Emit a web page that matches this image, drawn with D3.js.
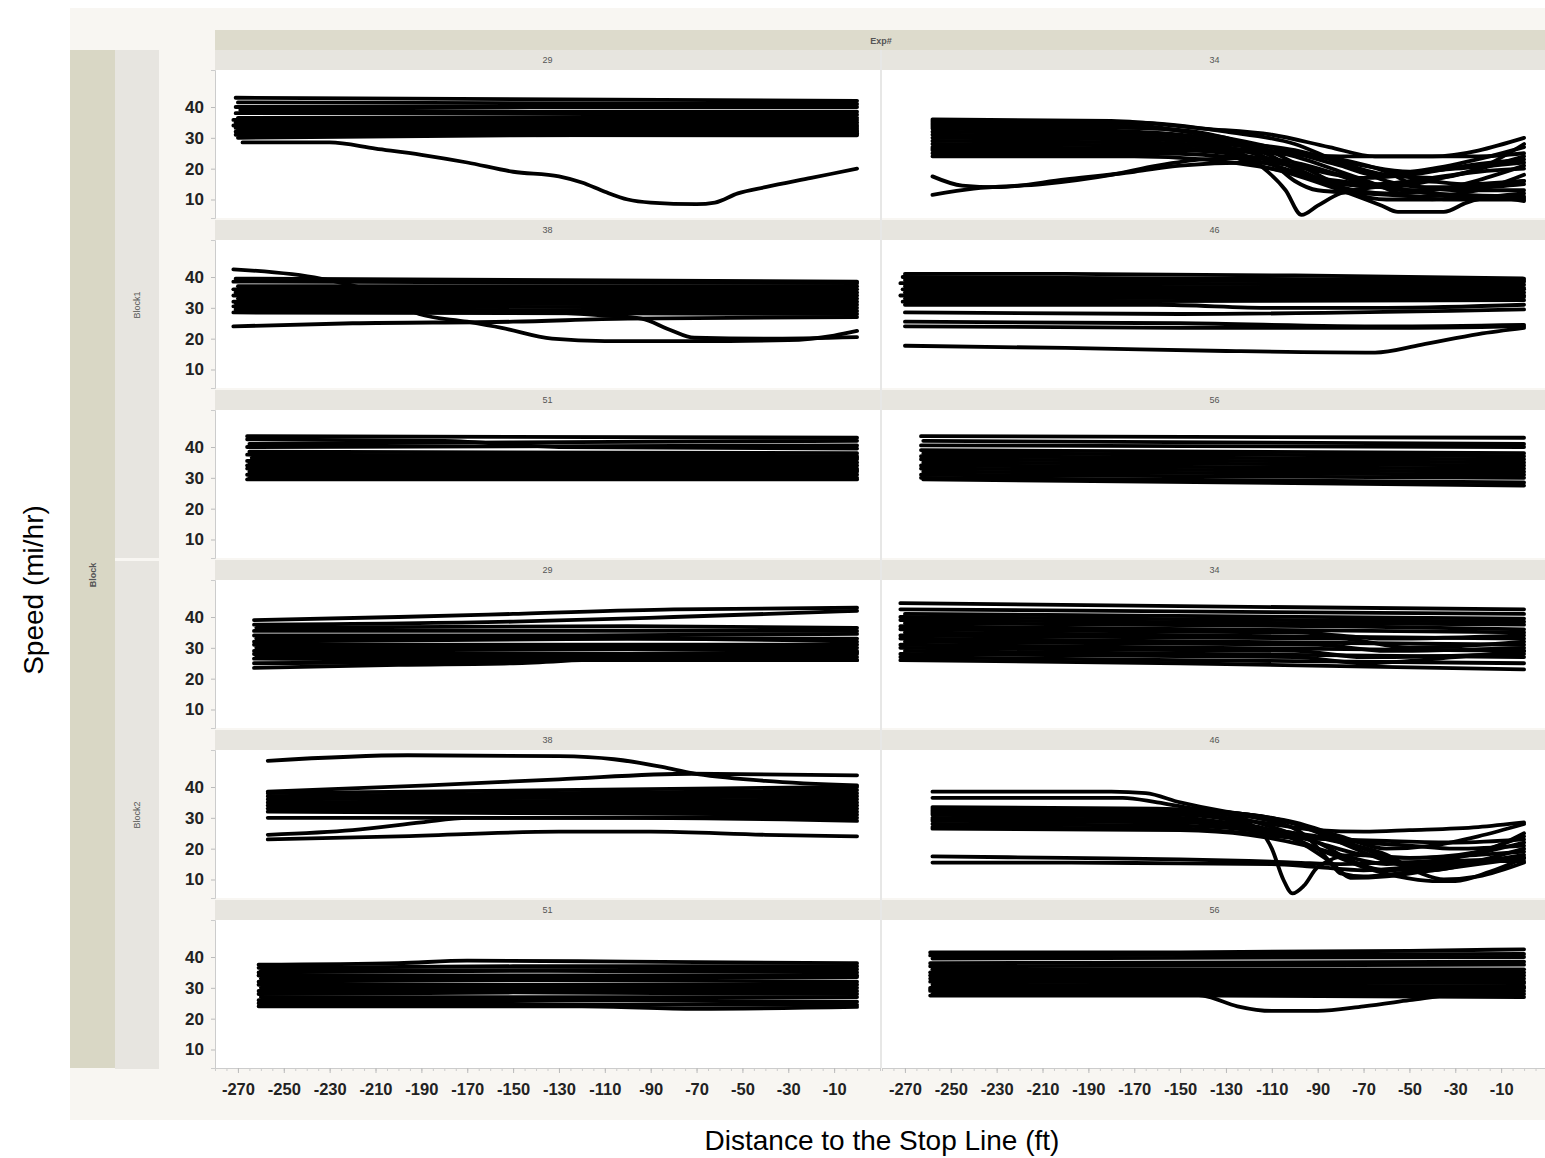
<!DOCTYPE html>
<html>
<meta charset="utf-8" />
<style>
  body { margin: 0; background: #fff; }
  .strip-label { font-family: "Liberation Sans", Arial, sans-serif; font-size: 9px; fill: #555; }
  .tick text { font-family: "Liberation Sans", Arial, sans-serif; font-weight: bold; fill: #222; }
  .title { font-family: "Liberation Sans", Arial, sans-serif; font-size: 28px; fill: #000; }
  .traj { fill: none; stroke: #000; stroke-width: 3.8; stroke-linejoin: round; stroke-linecap: round; }
</style>
<body>
<script src="https://d3js.org/d3.v7.min.js"></script>
<script>
// facets
let blocks = ["Block1", "Block2"];
let expRows = [["29", "34"], ["38", "46"], ["51", "56"]];
let xTickLabels = [-270, -250, -230, -210, -190, -170, -150, -130, -110, -90, -70, -50, -30, -10];
let yTickLabels = [10, 20, 30, 40];

// trajectories: [distance (ft), speed (mi/hr)]
let b1e29 = [
  [[-271,43],[0,42]], [[-270,41.5],[0,41]], [[-271,40],[0,40]], [[-269,39],[-130,38.5],[0,38.5]],
  [[-271,38],[0,37.5]], [[-270,36.5],[0,36.5]], [[-272,35.8],[0,35.8]], [[-271,35],[0,35]],
  [[-270,34.5],[0,34.2]], [[-272,34],[0,33.6]], [[-271,33.2],[0,33]], [[-270,32.6],[0,32.4]],
  [[-271,32],[0,32]], [[-270,31.5],[0,31.5]], [[-271,31],[0,30.8]], [[-270,30],[-150,30.8],[0,31.2]],
  [[-268,28.5],[-230,28.5],[-210,26.5],[-190,24.5],[-170,22],[-150,19],[-130,17.5],[-120,15.5],[-110,12.5],[-100,10],[-90,9],[-70,8.5],[-62,9],[-52,12],[-40,14],[-20,17],[0,20]]
];
let b1e34 = [
  [[-258,36],[-180,35.5],[-140,33],[-110,31],[-85,27],[-65,24],[-40,24],[0,30]],
  [[-258,35.5],[-170,35],[-130,32],[-100,28],[-80,22],[-60,18],[-40,17],[-20,20],[0,28]],
  [[-258,35],[-170,34],[-140,31],[-115,27],[-95,20],[-80,15],[-60,14],[-30,18],[0,24]],
  [[-258,34],[-160,33],[-130,30],[-110,24],[-95,18],[-80,14],[-60,12],[-40,13],[0,21]],
  [[-258,34.5],[-160,33],[-130,30],[-105,26],[-80,21],[-65,18],[-40,20],[-15,24],[0,27]],
  [[-258,33.5],[-170,32],[-130,29],[-110,22],[-100,16],[-90,13],[-70,12],[-45,11],[-20,13],[0,18]],
  [[-258,33],[-160,31],[-130,27],[-115,21],[-104,13],[-97,5],[-90,8],[-80,12],[-65,14],[-45,16],[-25,15],[0,16]],
  [[-258,32],[-170,31],[-140,28],[-120,22],[-100,18],[-80,13],[-62,8],[-55,6],[-35,6],[-25,9],[0,12]],
  [[-258,31],[-160,30],[-120,28],[-100,26],[-80,22],[-60,16],[-45,14],[-20,14],[0,15]],
  [[-258,30],[-170,29.5],[-130,28],[-100,24],[-80,19],[-65,15],[-50,11],[-35,10],[0,10]],
  [[-258,29],[-170,28.5],[-130,27],[-110,23],[-90,17],[-75,12],[-60,10],[-40,10],[-20,11],[0,9.5]],
  [[-258,28],[-150,27.5],[-120,26],[-90,24],[-70,21],[-50,19],[-30,20],[0,22]],
  [[-258,27],[-150,26.5],[-110,25],[-80,24],[-50,24],[-20,24],[0,25]],
  [[-258,26.5],[-150,26],[-120,24],[-95,20],[-70,17],[-50,18],[-25,21],[0,23]],
  [[-258,26],[-150,26],[-110,25.5],[-80,23],[-60,19],[-45,14],[-30,13],[0,13]],
  [[-258,25],[-160,25],[-120,23],[-100,19],[-85,16],[-65,15],[-40,17],[-20,19],[0,20]],
  [[-258,24],[-170,24],[-140,23],[-110,20],[-90,17],[-70,15],[-50,13],[-25,14],[0,16]],
  [[-258,17.5],[-245,14.5],[-230,14],[-200,16.5],[-170,19],[-150,21],[-120,22],[-100,21],[-80,18],[-60,14],[-40,12],[0,11]],
  [[-258,11.5],[-240,13.5],[-210,15],[-180,18],[-160,21],[-140,23],[-120,23.5],[-100,22],[-85,19],[-70,15],[-50,13],[-30,11],[0,10.5]]
];
let b1e38 = [
  [[-272,42.5],[-234,39.5],[-210,35],[-191,28],[-170,25.5],[-155,23.5],[-133,20],[-110,19.2],[-71,19.2],[-30,19.5],[-10,21],[0,22.5]],
  [[-270,30],[-150,29],[-110,27.5],[-94,26.5],[-82,23],[-71,20.3],[-40,20],[0,20.5]],
  [[-272,24],[-220,25],[-150,25.5],[-100,26.5],[0,27]],
  [[-271,39.5],[0,38.5]], [[-272,38.5],[0,38]], [[-270,37],[0,37]], [[-272,36],[0,36]],
  [[-271,35],[0,35]], [[-272,34],[0,34]], [[-270,33],[0,33]], [[-272,32],[0,32]],
  [[-271,31.5],[0,31]], [[-272,30.5],[0,30]], [[-271,29.5],[0,29]], [[-272,28.5],[0,28]]
];
let b1e46 = [
  [[-270,41],[-200,41],[-100,40.5],[0,39.5]], [[-271,40],[0,39]], [[-270,39],[0,38.5]],
  [[-272,38],[0,37.5]], [[-270,37],[0,36.5]], [[-271,36],[0,36]], [[-270,35],[0,35]],
  [[-272,34],[0,34]], [[-270,33],[0,33.5]], [[-271,32],[0,32.5]], [[-270,31],[-160,31],[-110,30],[-60,30],[0,31]],
  [[-270,28.5],[-150,28],[0,29.5]], [[-270,25.5],[-150,25],[-60,24],[0,24.5]],
  [[-270,24],[-150,23.5],[-60,23.5],[0,24]],
  [[-270,17.7],[-200,17],[-130,16],[-65,15.5],[-45,18],[-20,21.5],[0,23.5]]
];
let b1e51 = [
  [[-266,43.5],[0,43]], [[-266,42.5],[-180,42],[-130,40],[0,39.5]], [[-265,41],[-150,41.5],[0,42]],
  [[-266,40],[0,40.5]], [[-265,38.5],[0,38]], [[-266,37.5],[0,37]], [[-264,36.5],[0,36.5]],
  [[-266,35.5],[0,36]], [[-265,35],[0,35]], [[-266,34],[0,34]], [[-264,33.5],[0,33]],
  [[-266,33],[0,32.5]], [[-265,32],[0,32]], [[-266,31],[0,31]], [[-265,30],[0,30]], [[-266,29.5],[0,29.5]]
];
let b1e56 = [
  [[-263,43.5],[0,43]], [[-262,42],[0,41]], [[-263,40.5],[0,40]], [[-263,39],[0,38]],
  [[-262,38],[0,37]], [[-263,37],[0,36]], [[-263,36],[0,35]], [[-262,35],[0,34]],
  [[-263,34],[0,33]], [[-263,33],[0,32]], [[-262,32],[0,31]], [[-263,31],[0,30]],
  [[-263,30],[0,28.5]], [[-262,29.5],[0,27.5]]
];
let b2e29 = [
  [[-263,39],[-200,40],[-150,41],[-80,42.5],[0,43]], [[-263,37.5],[-150,38.5],[-80,40],[0,42]],
  [[-262,36.5],[-100,37],[0,36.5]], [[-263,35.5],[0,35.5]], [[-263,34],[-120,34],[0,34.5]],
  [[-262,33],[0,33]], [[-263,32],[-100,33],[0,32]], [[-263,31],[0,31]], [[-262,30],[0,30]],
  [[-263,29],[-100,29.5],[0,29]], [[-263,28],[0,28]], [[-262,27],[0,27]],
  [[-263,26.5],[-150,26],[0,26]], [[-263,25],[-150,25.5],[-100,28],[0,28.5]],
  [[-263,23.5],[-200,24.5],[-150,25],[-100,26.5],[0,26]]
];
let b2e34 = [
  [[-272,44.5],[-150,43.5],[0,42.5]], [[-272,42.5],[0,41]], [[-270,41],[0,39.5]],
  [[-272,40],[-100,39],[0,38.5]], [[-272,39],[0,37.5]], [[-270,38],[-80,37],[0,36]],
  [[-272,37],[0,35]], [[-272,36],[-100,35],[-60,33],[0,34]], [[-270,35],[0,33]],
  [[-272,34],[-80,33],[-50,30],[0,32]], [[-272,33],[0,31]], [[-270,32],[-90,31],[-60,29],[0,30]],
  [[-272,31],[0,29]], [[-272,30],[-100,29],[-70,27],[0,28]], [[-270,29],[0,27]],
  [[-272,28],[-100,27],[-70,25],[-30,27],[0,29]], [[-272,27],[-150,26],[0,25]],
  [[-272,26],[-150,25],[0,23]]
];
let b2e38 = [
  [[-257,48.5],[-196,50.3],[-130,50],[-106,49],[-85,46.5],[-72,44.5],[-40,42],[0,40.5]],
  [[-257,38.5],[-187,40.5],[-130,42.5],[-72,44.3],[0,43.8]],
  [[-257,38],[0,40]], [[-257,37],[0,39]], [[-256,36.5],[0,38]], [[-257,36],[0,37]],
  [[-257,35],[0,36]], [[-256,34.5],[0,35]], [[-257,34],[0,34]], [[-257,33],[0,33]],
  [[-256,32.5],[0,32]], [[-257,32],[-150,31.5],[0,31]], [[-257,30],[-170,30],[0,30]],
  [[-257,24.5],[-220,26],[-190,28.5],[-170,30],[-100,30],[0,29]],
  [[-257,23],[-200,24],[-130,25.5],[-90,25.5],[-40,24.5],[0,24]]
];
let b2e46 = [
  [[-258,38.5],[-180,38.5],[-165,38],[-150,35],[-130,32],[-110,30],[-90,26],[-70,20],[-50,15],[-30,17],[0,22]],
  [[-258,36.5],[-175,36.5],[-160,35],[-140,32.5],[-120,31],[-100,28],[-80,22],[-60,16],[-40,13],[-20,16],[0,20]],
  [[-258,33.5],[-160,33],[-130,31],[-110,27],[-90,22],[-70,18],[-50,17],[-20,19],[0,25]],
  [[-258,33],[-150,32.5],[-120,31],[-100,28.5],[-80,24],[-60,20],[-40,21],[-20,24],[0,28]],
  [[-258,32.5],[-150,32],[-130,30],[-110,28],[-90,26],[-70,25.5],[-50,26],[-20,27],[0,28.5]],
  [[-258,32],[-140,31.5],[-110,29],[-95,24],[-85,16],[-80,12],[-70,11],[-55,12],[-35,14],[0,18]],
  [[-258,31.5],[-150,31],[-120,28],[-110,20],[-105,10],[-101,5.5],[-96,8],[-90,14],[-75,18],[-50,17],[-20,18],[0,19]],
  [[-258,31],[-150,30],[-120,27],[-100,23],[-85,16],[-75,10.5],[-60,11],[-40,13],[0,17]],
  [[-258,30],[-140,29],[-110,26],[-90,20],[-70,14],[-55,11],[-40,9.5],[-30,9.5],[-15,12.5],[0,17]],
  [[-258,29.5],[-150,29],[-120,27],[-100,25],[-80,22],[-60,18],[-45,12],[-35,10],[-20,11],[0,15.5]],
  [[-258,29],[-150,28.5],[-110,26],[-90,24],[-70,22],[-50,21],[-30,20],[0,21]],
  [[-258,28],[-150,27.5],[-110,25],[-90,22],[-75,16],[-60,13],[-40,14],[-20,16],[0,17]],
  [[-258,27],[-150,26.5],[-120,25],[-100,23.5],[-80,23],[-60,22.5],[-30,22],[0,23]],
  [[-258,26.5],[-150,26],[-120,24.5],[-95,21],[-80,18],[-60,15],[-40,16],[-20,19],[0,24]],
  [[-258,17.5],[-200,17],[-150,16.5],[-120,16],[-100,15.5],[-80,15],[-60,15.5],[-30,16],[0,17]],
  [[-258,15.5],[-200,15.5],[-150,15.2],[-110,15],[-90,14],[-70,13],[-50,14],[-20,16],[0,16]]
];
let b2e51 = [
  [[-261,37.5],[-200,38],[-170,38.8],[-100,38.5],[0,38]], [[-261,36.5],[-150,37],[0,37]],
  [[-260,35.5],[0,36]], [[-261,35],[-150,35.5],[0,35]], [[-261,34],[0,34]], [[-260,33],[0,33.5]],
  [[-261,32],[-150,32.5],[0,32]], [[-261,31],[0,31]], [[-260,30],[-100,30],[0,30]],
  [[-261,29],[0,29]], [[-261,28],[-150,28.5],[0,28]], [[-260,27],[0,27]],
  [[-261,26],[-150,26],[0,25.5]], [[-261,25],[-200,25],[-100,24.5],[0,24.5]],
  [[-261,24],[-200,24],[-120,24],[-70,23.2],[0,23.8]]
];
let b2e56 = [
  [[-259,41.5],[-150,41.5],[-50,42],[0,42.5]], [[-259,40.5],[0,41]], [[-258,39.5],[0,40]],
  [[-259,38],[0,38.5]], [[-259,37],[0,37.5]], [[-258,36],[0,36]], [[-259,35],[0,35]],
  [[-259,34],[0,34]], [[-258,33.5],[0,33]], [[-259,33],[0,32]], [[-259,32],[0,31.5]],
  [[-258,31],[0,30.5]], [[-259,30],[0,30]], [[-259,29],[0,29]], [[-258,28],[-100,28],[0,28]],
  [[-259,27.5],[-150,27.5],[0,27]],
  [[-259,29.5],[-170,29],[-140,27.5],[-125,24],[-110,22.5],[-90,22.5],[-70,24],[-50,26],[-30,28],[0,30]]
];

let panelData = {
  Block1: { "29": b1e29, "34": b1e34, "38": b1e38, "46": b1e46, "51": b1e51, "56": b1e56 },
  Block2: { "29": b2e29, "34": b2e34, "38": b2e38, "46": b2e46, "51": b2e51, "56": b2e56 }
};

let width = 1545, height = 1158;
let colX = [215, 882], panelW = 665;
let rowPitch = 170, stripH = 20, panelH = 148, top0 = 50;

let svg = d3.select("body").append("svg").attr("width", width).attr("height", height);

svg.append("rect").attr("x", 70).attr("y", 8).attr("width", width - 70).attr("height", 1112).attr("fill", "#f8f6f2");

let x = d3.scaleLinear().domain([-280, 10]).range([0, panelW]);
let y = d3.scaleLinear().domain([4, 52]).range([panelH, 0]);
let line = d3.line().x(d => x(d[0])).y(d => y(d[1])).curve(d3.curveMonotoneX);

// header
svg.append("rect").attr("x", 215).attr("y", 30).attr("width", width - 215).attr("height", 20).attr("fill", "#dddbcc");
svg.append("text").attr("class", "strip-label").attr("x", 881).attr("y", 44)
  .attr("text-anchor", "middle").attr("font-weight", "bold").attr("fill", "#333").text("Exp#");

// left strips
svg.append("rect").attr("x", 70).attr("y", 50).attr("width", 45).attr("height", 1018).attr("fill", "#d9d7c5");
svg.append("text").attr("class", "strip-label").attr("font-weight", "bold").attr("fill", "#333")
  .attr("transform", "translate(96,575) rotate(-90)").attr("text-anchor", "middle").text("Block");

blocks.forEach((b, bi) => {
  let y0 = 50 + bi * 510;
  svg.append("rect").attr("x", 115).attr("y", y0 + (bi ? 1 : 0)).attr("width", 44).attr("height", 508)
    .attr("fill", "#e7e5e0");
  svg.append("text").attr("class", "strip-label")
    .attr("transform", `translate(140,${y0 + 255}) rotate(-90)`).attr("text-anchor", "middle").text(b);
});

let defs = svg.append("defs");
defs.append("clipPath").attr("id", "pclip").append("rect").attr("width", panelW).attr("height", panelH);

let rowIdx = 0;
blocks.forEach(b => {
  expRows.forEach(pair => {
    let sy = top0 + rowIdx * rowPitch;
    let py = sy + stripH;
    pair.forEach((exp, ci) => {
      let px = colX[ci];
      svg.append("rect").attr("x", px).attr("y", sy).attr("width", panelW).attr("height", stripH).attr("fill", "#e7e5df");
      svg.append("text").attr("class", "strip-label").attr("x", px + panelW / 2).attr("y", sy + 13)
        .attr("text-anchor", "middle").text(exp);
      let g = svg.append("g").attr("transform", `translate(${px},${py})`);
      g.append("rect").attr("width", panelW).attr("height", panelH).attr("fill", "#fff");
      g.append("g").attr("clip-path", "url(#pclip)")
        .selectAll("path").data(panelData[b][exp]).join("path")
        .attr("class", "traj").attr("d", line);
    });
    // y axis
    let ya = svg.append("g").attr("transform", `translate(${colX[0]},${py})`)
      .call(d3.axisLeft(y).tickValues(yTickLabels).tickSize(4).tickPadding(7));
    ya.select(".domain").attr("stroke", "#ccc");
    ya.selectAll(".tick line").attr("stroke", "#bbb");
    ya.selectAll(".tick text").attr("font-size", 17);
    rowIdx++;
  });
});

// divider between columns
svg.append("line").attr("x1", 881).attr("x2", 881).attr("y1", 50).attr("y2", 1068)
  .attr("stroke", "#e2e2e2").attr("stroke-width", 1.5);

// x axes
let axisY = top0 + 5 * rowPitch + stripH + panelH;
colX.forEach(px => {
  let minor = svg.append("g").attr("transform", `translate(${px},${axisY})`)
    .call(d3.axisBottom(x).ticks(58).tickSize(3).tickFormat(""));
  minor.select(".domain").attr("stroke", "#ccc");
  minor.selectAll(".tick line").attr("stroke", "#ccc");
  let xa = svg.append("g").attr("transform", `translate(${px},${axisY})`)
    .call(d3.axisBottom(x).tickValues(xTickLabels).tickSize(5).tickPadding(10).tickFormat(d => String(d)));
  xa.select(".domain").remove();
  xa.selectAll(".tick line").attr("stroke", "#bbb");
  xa.selectAll(".tick text").attr("font-size", 16.5);
});

// titles
svg.append("text").attr("class", "title").attr("transform", "translate(43,590) rotate(-90)")
  .attr("text-anchor", "middle").text("Speed (mi/hr)");
svg.append("text").attr("class", "title").attr("x", 882).attr("y", 1150)
  .attr("text-anchor", "middle").text("Distance to the Stop Line (ft)");
</script>
</body>
</html>
